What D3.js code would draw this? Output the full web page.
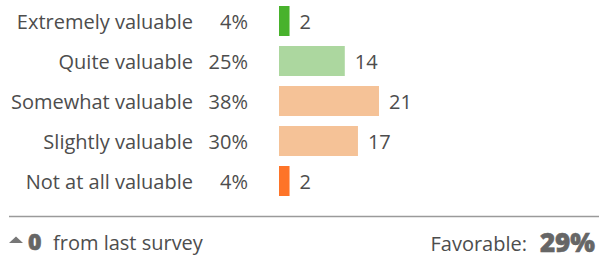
<!DOCTYPE html>
<html>
<head>
<meta charset="utf-8">
<script src="https://cdn.jsdelivr.net/npm/d3@7"></script>
<style>
  html, body { margin: 0; padding: 0; background: #fff; }
  svg { display: block; font-family: "Open Sans", Lato, sans-serif; }
</style>
</head>
<body>
<div id="chart"></div>
<script>
// answers, top to bottom
var categories = ["Extremely valuable", "Quite valuable", "Somewhat valuable", "Slightly valuable", "Not at all valuable"];
var counts = [2, 14, 21, 17, 2];
var percents = [4, 25, 38, 30, 4];
var barColors = ["#48b22c", "#acd79f", "#f5c297", "#f5c297", "#fe7428"];
var changeValue = 0;
var favorable = "29%";

var width = 599, height = 256;
var textColor = "#4d4d4d";

var svg = d3.select("#chart").append("svg")
    .attr("width", width)
    .attr("height", height);

var y = d3.scaleBand()
    .domain(categories)
    .range([1, 201])
    .paddingInner(0.25)
    .paddingOuter(0.125);

// bar length follows the share of answers
var x = d3.scaleLinear()
    .domain([0, d3.max(percents)])
    .range([0, 100]);

var barLeft = 279;

var rows = svg.selectAll(".row")
    .data(categories)
    .enter().append("g")
    .attr("class", "row")
    .attr("transform", function (d) {
        return "translate(0," + (y(d) + y.bandwidth() / 2) + ")";
    });

rows.append("text")
    .attr("x", 193)
    .attr("dy", ".4em")
    .attr("text-anchor", "end")
    .attr("fill", textColor)
    .style("font-size", "20px")
    .text(function (d) { return d; });

rows.append("text")
    .attr("x", 248)
    .attr("dy", ".4em")
    .attr("text-anchor", "end")
    .attr("fill", textColor)
    .style("font-size", "20px")
    .text(function (d, i) { return percents[i] + "%"; });

rows.append("rect")
    .attr("x", barLeft)
    .attr("y", -y.bandwidth() / 2)
    .attr("height", y.bandwidth())
    .attr("width", function (d, i) { return x(percents[i]); })
    .attr("fill", function (d, i) { return barColors[i]; });

rows.append("text")
    .attr("x", function (d, i) { return barLeft + x(percents[i]) + 10; })
    .attr("dy", ".4em")
    .attr("fill", textColor)
    .style("font-size", "20px")
    .text(function (d, i) { return counts[i]; });

// divider
svg.append("line")
    .attr("x1", 9)
    .attr("x2", width)
    .attr("y1", 216.5)
    .attr("y2", 216.5)
    .attr("stroke", "#9a9a9a")
    .attr("stroke-width", 1.5);

// footer
var foot = svg.append("g").attr("transform", "translate(0,250)");

foot.append("path")
    .attr("d", "M9,-7 L16,-13.5 L23,-7 Z")
    .attr("fill", "#777");

foot.append("text")
    .attr("x", 28)
    .attr("fill", "#666")
    .attr("stroke", "#666")
    .attr("stroke-width", 0.6)
    .style("font-size", "23px")
    .style("font-weight", "800")
    .text(changeValue);

foot.append("text")
    .attr("x", 53)
    .attr("fill", textColor)
    .style("font-size", "20px")
    .text("from last survey");

foot.append("text")
    .attr("x", 527)
    .attr("y", 1)
    .attr("text-anchor", "end")
    .attr("fill", textColor)
    .style("font-size", "20px")
    .text("Favorable:");

foot.append("text")
    .attr("x", 595)
    .attr("y", 2)
    .attr("text-anchor", "end")
    .attr("fill", "#666")
    .attr("stroke", "#666")
    .attr("stroke-width", 0.6)
    .style("font-size", "26px")
    .style("font-weight", "800")
    .text(favorable);
</script>
</body>
</html>
